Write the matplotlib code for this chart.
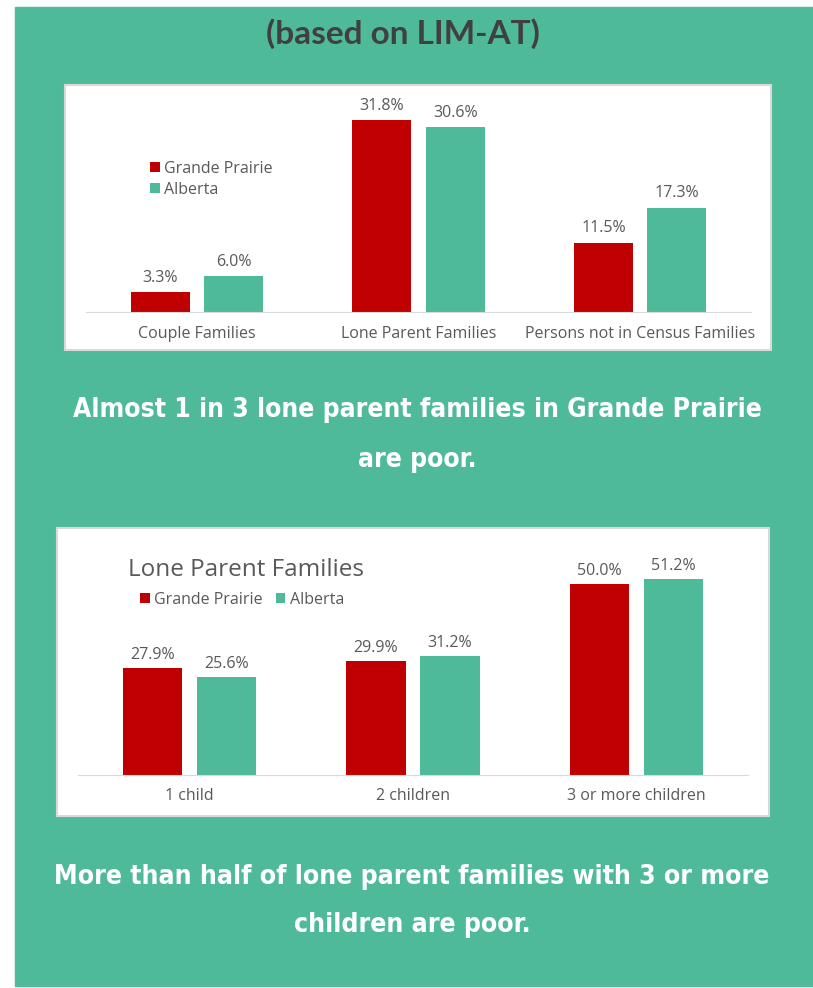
import numpy as np
import matplotlib.pyplot as plt
from matplotlib.patches import Rectangle

## Data
series = ['Grande Prairie', 'Alberta']

cats1 = ['Couple Families', 'Lone Parent Families', 'Persons not in Census Families']
gp1 = [3.3, 31.8, 11.5]
ab1 = [6.0, 30.6, 17.3]

cats2 = ['1 child', '2 children', '3 or more children']
gp2 = [27.9, 29.9, 50.0]
ab2 = [25.6, 31.2, 51.2]

title = '(based on LIM-AT)'
msg1 = ['Almost 1 in 3 lone parent families in Grande Prairie', 'are poor.']
msg2 = ['More than half of lone parent families with 3 or more', 'children are poor.']

## Style
RED = '#C00000'
TEAL = '#4FBA9A'
GREY = '#595959'
W, H = 813, 988
FS = 11.5
plt.rcParams['font.family'] = ['Open Sans', 'DejaVu Sans']
BIG = ['DejaVu Sans']

fig = plt.figure(figsize=(W / 100, H / 100), dpi=100)


def rect(x0, y0, x1, y1):
    # pixel box (y from top) -> figure fraction [l, b, w, h]
    return [x0 / W, 1 - y1 / H, (x1 - x0) / W, (y1 - y0) / H]


def fy(py):
    return 1 - py / H


# green panel and white chart boxes
r = rect(15, 7, 813, 986)
fig.patches.append(Rectangle(r[:2], r[2], r[3], transform=fig.transFigure,
                             color=TEAL, zorder=0))
for b in [(65, 85, 771, 350), (57, 528, 769, 816)]:
    r = rect(*b)
    fig.patches.append(Rectangle(r[:2], r[2], r[3], transform=fig.transFigure,
                                 facecolor='white', edgecolor='#D9D9D9',
                                 lw=1.5, zorder=1))


def bars(ax, cats, gp, ab, ymax, pad, tpad):
    x = np.arange(len(cats))
    w = 0.266
    off = 0.166
    b1 = ax.bar(x - off, gp, w, color=RED, label=series[0])
    b2 = ax.bar(x + off, ab, w, color=TEAL, label=series[1])
    for bb in (b1, b2):
        ax.bar_label(bb, labels=['%.1f%%' % v for v in bb.datavalues],
                     padding=pad, fontsize=FS, color=GREY)
    ax.set_xlim(-0.5, len(cats) - 0.5)
    ax.set_ylim(0, ymax)
    ax.set_xticks(x)
    ax.set_xticklabels(cats, fontsize=FS, color=GREY)
    ax.tick_params(axis='x', length=0, pad=tpad)
    ax.set_yticks([])
    for s in ['top', 'right', 'left']:
        ax.spines[s].set_visible(False)
    ax.spines['bottom'].set_color('#D9D9D9')
    ax.patch.set_alpha(0)
    return b1, b2


# chart 1
ax1 = fig.add_axes(rect(86, 100, 751, 312), zorder=2)
b1, b2 = bars(ax1, cats1, gp1, ab1, 212 / 6.04, 4.5, 10)
ax1.legend(handles=[b1, b2], loc='upper left', frameon=False,
           bbox_to_anchor=(150 / W, fy(161)), bbox_transform=fig.transFigure,
           fontsize=FS, labelcolor=GREY, handlelength=0.6, handleheight=0.6,
           handletextpad=0.3, labelspacing=0.3, borderpad=0, borderaxespad=0)

# chart 2
ax2 = fig.add_axes(rect(78, 540, 748, 775), zorder=2)
b1, b2 = bars(ax2, cats2, gp2, ab2, 235 / 3.826, 3.5, 9.5)
ax2.legend(handles=[b1, b2], loc='center left', frameon=False, ncol=2,
           bbox_to_anchor=(140 / W, fy(600)), bbox_transform=fig.transFigure,
           fontsize=FS, labelcolor=GREY, handlelength=0.6, handleheight=0.6,
           handletextpad=0.3, columnspacing=0.8, borderpad=0, borderaxespad=0)
fig.text(128 / W, fy(570), 'Lone Parent Families', fontsize=17.5, color=GREY,
         ha='left', va='center')

# headline texts
t0 = fig.text(403 / W, fy(34), title, fontsize=24, fontweight='bold',
              color='#404040', ha='center', va='center', family=['Lato'])
heads = []
for txt, yy in zip(msg1, [410, 460]):
    heads.append(fig.text(417 / W, fy(yy), txt, fontsize=20, fontweight='bold',
                          color='white', ha='center', va='center',
                          family=BIG, fontstretch='condensed'))
for txt, yy in zip(msg2, [877, 925]):
    heads.append(fig.text(412 / W, fy(yy), txt, fontsize=20, fontweight='bold',
                          color='white', ha='center', va='center',
                          family=BIG, fontstretch='condensed'))

# shrink the headline lines so the first line of each pair spans the width it has
rend = fig.canvas.get_renderer()
for pair, target in [(heads[0:2], 689), (heads[2:4], 719)]:
    wd = pair[0].get_window_extent(rend).width
    size = pair[0].get_fontsize() * target / wd
    for t in pair:
        t.set_fontsize(size)

fig.savefig('out.png', dpi=100, facecolor='white')
